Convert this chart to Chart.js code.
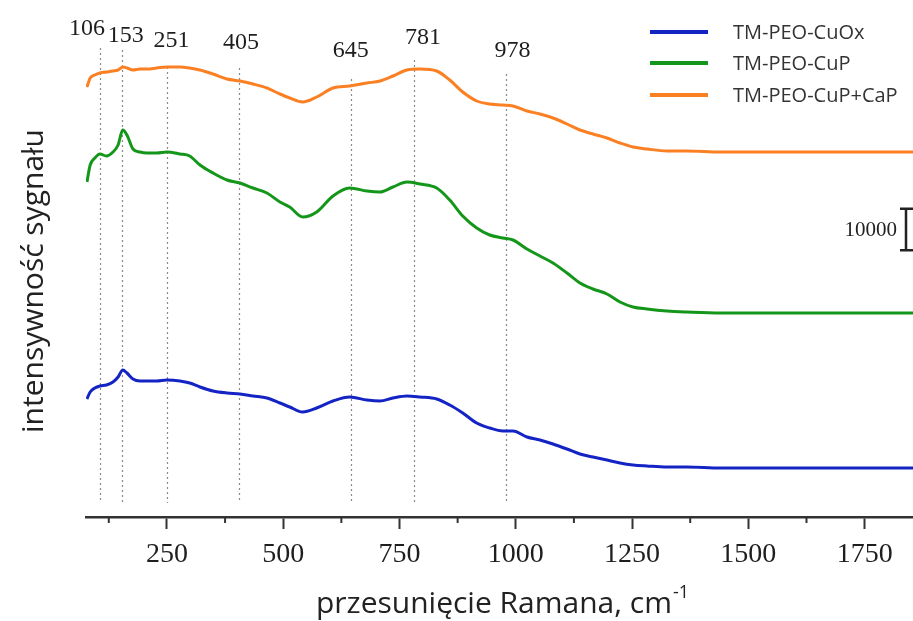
<!DOCTYPE html>
<html>
<head>
<meta charset="utf-8">
<script src="https://cdn.jsdelivr.net/npm/chart.js@4.4.1/dist/chart.umd.min.js"></script>
<style>
  html, body { margin: 0; padding: 0; background: #fff; }
  #wrap { width: 913px; height: 621px; }
</style>
</head>
<body>
<div id="wrap"><canvas id="raman" width="913" height="621"></canvas></div>
<script>
// Raman shift, cm-1 (shared by all three spectra)
const shifts = [78, 85, 95, 106, 120, 134, 145, 155, 164, 177, 192, 207, 228, 250, 278, 299, 321, 349, 379, 407,
  435, 465, 493, 514, 542, 572, 607, 643, 680, 708, 736, 766, 794, 830, 858, 886, 916, 944, 972, 994,
  1024, 1052, 1080, 1110, 1138, 1166, 1196, 1224, 1252, 1282, 1325, 1368, 1440, 1525, 1610, 1700, 1785, 1854];

// intensities, already offset for stacking
const cuOx = [28320, 30000, 30960, 31440, 31680, 32400, 33600, 35280, 34560, 33120, 32640, 32640, 32640, 32880, 32640, 32160, 31200, 30240, 29760, 29520,
  29040, 28560, 27360, 26400, 25200, 26160, 27840, 28800, 28080, 27840, 28560, 29040, 28800, 28320, 26880, 24960, 22560, 21360, 20640, 20640,
  19200, 18480, 17520, 16320, 15120, 14400, 13680, 12960, 12480, 12240, 12000, 12000, 11760, 11760, 11760, 11760, 11760, 11760];

const cuP = [80400, 84480, 86160, 87120, 86640, 87600, 89280, 92880, 91680, 88320, 87600, 87360, 87360, 87600, 87120, 86640, 84480, 82560, 80880, 80160,
  78960, 77760, 75600, 74400, 72000, 73200, 77040, 78960, 78240, 78000, 79200, 80400, 79920, 78960, 76080, 72240, 69360, 67680, 66960, 66480,
  64320, 62640, 60960, 58560, 56160, 54720, 53520, 51600, 50400, 49920, 49440, 49200, 48960, 48960, 48960, 48960, 48960, 48960];

const cuPCaP = [103200, 105360, 106080, 106560, 106800, 107040, 107280, 108000, 107760, 107280, 107520, 107520, 107760, 108000, 108000, 107760, 107280, 106320, 105120, 104640,
  103920, 102960, 101520, 100560, 99600, 100800, 102960, 103440, 104160, 104640, 105840, 107280, 107520, 107040, 104880, 102000, 99840, 99120, 98880, 98640,
  97440, 96720, 95760, 94320, 92880, 91920, 90960, 89760, 88800, 88320, 87840, 87840, 87600, 87600, 87600, 87600, 87600, 87600];

const seriesNames = ['TM-PEO-CuOx', 'TM-PEO-CuP', 'TM-PEO-CuP+CaP'];
const seriesColors = ['#1424c4', '#14961a', '#fb8024'];

// marked bands
const peaks = [106, 153, 251, 405, 645, 781, 978];

// scale bar
const barSize = 10000;
const barBase = 64000;

const xTicks = { min: 76, max: 1854, step: 125, labelEvery: 250 };

// label placement for the band markers (px)
const peakLabelDx = [-13, 4, 4, 2, 0, 9, 7];
const peakLabelY = [29, 36, 41, 43, 51, 38, 51];
const peakLineTop = [48, 50, 67, 68, 79, 60, 74];
const peakLineBottom = 503;

const serif = '"Liberation Serif", "Times New Roman", serif';
const sans = '"Open Sans", "Liberation Sans", sans-serif';

function pts(values) {
  return shifts.map((s, i) => ({ x: s, y: values[i] }));
}

const bandMarks = {
  id: 'bandMarks',
  beforeDatasetsDraw(chart) {
    const { ctx } = chart;
    const x = chart.scales.x;
    ctx.save();
    ctx.strokeStyle = '#8a8a8a';
    ctx.lineWidth = 1.2;
    ctx.setLineDash([2, 3]);
    peaks.forEach((p, i) => {
      const px = Math.round(x.getPixelForValue(p)) + 0.5;
      ctx.beginPath();
      ctx.moveTo(px, peakLineTop[i]);
      ctx.lineTo(px, peakLineBottom);
      ctx.stroke();
    });
    ctx.setLineDash([]);
    ctx.fillStyle = '#1e1e1e';
    ctx.font = '24px ' + serif;
    ctx.textAlign = 'center';
    ctx.textBaseline = 'middle';
    peaks.forEach((p, i) => {
      ctx.fillText(String(p), x.getPixelForValue(p) + peakLabelDx[i], peakLabelY[i]);
    });
    ctx.restore();
  }
};

const extras = {
  id: 'extras',
  afterDraw(chart) {
    const { ctx, chartArea } = chart;
    const x = chart.scales.x;
    const y = chart.scales.y;
    ctx.save();

    // minor ticks
    ctx.strokeStyle = '#333';
    ctx.lineWidth = 2;
    for (let v = Math.ceil(xTicks.min / xTicks.step) * xTicks.step; v <= xTicks.max; v += xTicks.step) {
      if (v % xTicks.labelEvery === 0) continue;
      const px = x.getPixelForValue(v);
      ctx.beginPath();
      ctx.moveTo(px, chartArea.bottom);
      ctx.lineTo(px, chartArea.bottom + 6);
      ctx.stroke();
    }

    // legend
    ctx.font = '20px ' + sans;
    ctx.textAlign = 'left';
    ctx.textBaseline = 'middle';
    const legendY = [32, 63, 95];
    seriesNames.forEach((name, i) => {
      ctx.strokeStyle = seriesColors[i];
      ctx.lineWidth = 4;
      ctx.beginPath();
      ctx.moveTo(650, legendY[i]);
      ctx.lineTo(708, legendY[i]);
      ctx.stroke();
      ctx.fillStyle = '#333';
      ctx.fillText(name, 733, legendY[i] + 1);
    });

    // intensity scale bar
    const bx = 906;
    const yTop = y.getPixelForValue(barBase + barSize);
    const yBot = y.getPixelForValue(barBase);
    ctx.strokeStyle = '#222';
    ctx.lineWidth = 2.5;
    ctx.beginPath();
    ctx.moveTo(bx, yTop); ctx.lineTo(bx, yBot);
    ctx.moveTo(bx - 6, yTop); ctx.lineTo(bx + 7, yTop);
    ctx.moveTo(bx - 6, yBot); ctx.lineTo(bx + 7, yBot);
    ctx.stroke();
    ctx.fillStyle = '#222';
    ctx.font = '21px ' + serif;
    ctx.textAlign = 'right';
    ctx.fillText(String(barSize), bx - 9, (yTop + yBot) / 2 + 1);

    // axis titles
    ctx.fillStyle = '#222';
    ctx.font = '30px ' + sans;
    ctx.save();
    ctx.translate(34, 281);
    ctx.rotate(-Math.PI / 2);
    ctx.textAlign = 'center';
    ctx.fillText('intensywność sygnału', 0, 0);
    ctx.restore();

    const main = 'przesunięcie Ramana, cm';
    const sup = '-1';
    ctx.font = '30px ' + sans;
    const w1 = ctx.measureText(main).width;
    ctx.font = '18px ' + sans;
    const w2 = ctx.measureText(sup).width;
    const startX = 502 - (w1 + w2) / 2;
    ctx.textAlign = 'left';
    ctx.textBaseline = 'alphabetic';
    ctx.font = '30px ' + sans;
    ctx.fillText(main, startX, 613);
    ctx.font = '18px ' + sans;
    ctx.fillText(sup, startX + w1 + 1, 598);
    ctx.restore();
  }
};

new Chart(document.getElementById('raman'), {
  type: 'line',
  data: {
    datasets: [cuOx, cuP, cuPCaP].map((vals, i) => ({
      label: seriesNames[i],
      data: pts(vals),
      borderColor: seriesColors[i],
      borderWidth: 3,
      pointRadius: 0,
      cubicInterpolationMode: 'monotone',
      fill: false
    }))
  },
  options: {
    responsive: false,
    devicePixelRatio: 1,
    animation: false,
    layout: { padding: { left: 86, right: 0, top: 0, bottom: 0 } },
    plugins: { legend: { display: false }, tooltip: { enabled: false } },
    scales: {
      x: {
        type: 'linear',
        min: xTicks.min,
        max: xTicks.max,
        afterFit(scale) { scale.height = 104; },
        border: { color: '#333', width: 2.5 },
        grid: {
          drawOnChartArea: false,
          tickLength: 12,
          tickWidth: 2,
          tickColor: c => (c.tick && c.tick.value % xTicks.labelEvery === 0 ? '#333' : 'rgba(0,0,0,0)')
        },
        ticks: {
          stepSize: xTicks.step,
          includeBounds: false,
          autoSkip: false,
          maxRotation: 0,
          padding: 9,
          color: '#1e1e1e',
          font: { family: serif, size: 28 },
          callback: v => (v % xTicks.labelEvery === 0 ? String(v) : '')
        }
      },
      y: { display: false, min: 0, max: 124080 }
    }
  },
  plugins: [bandMarks, extras]
});
</script>
</body>
</html>
